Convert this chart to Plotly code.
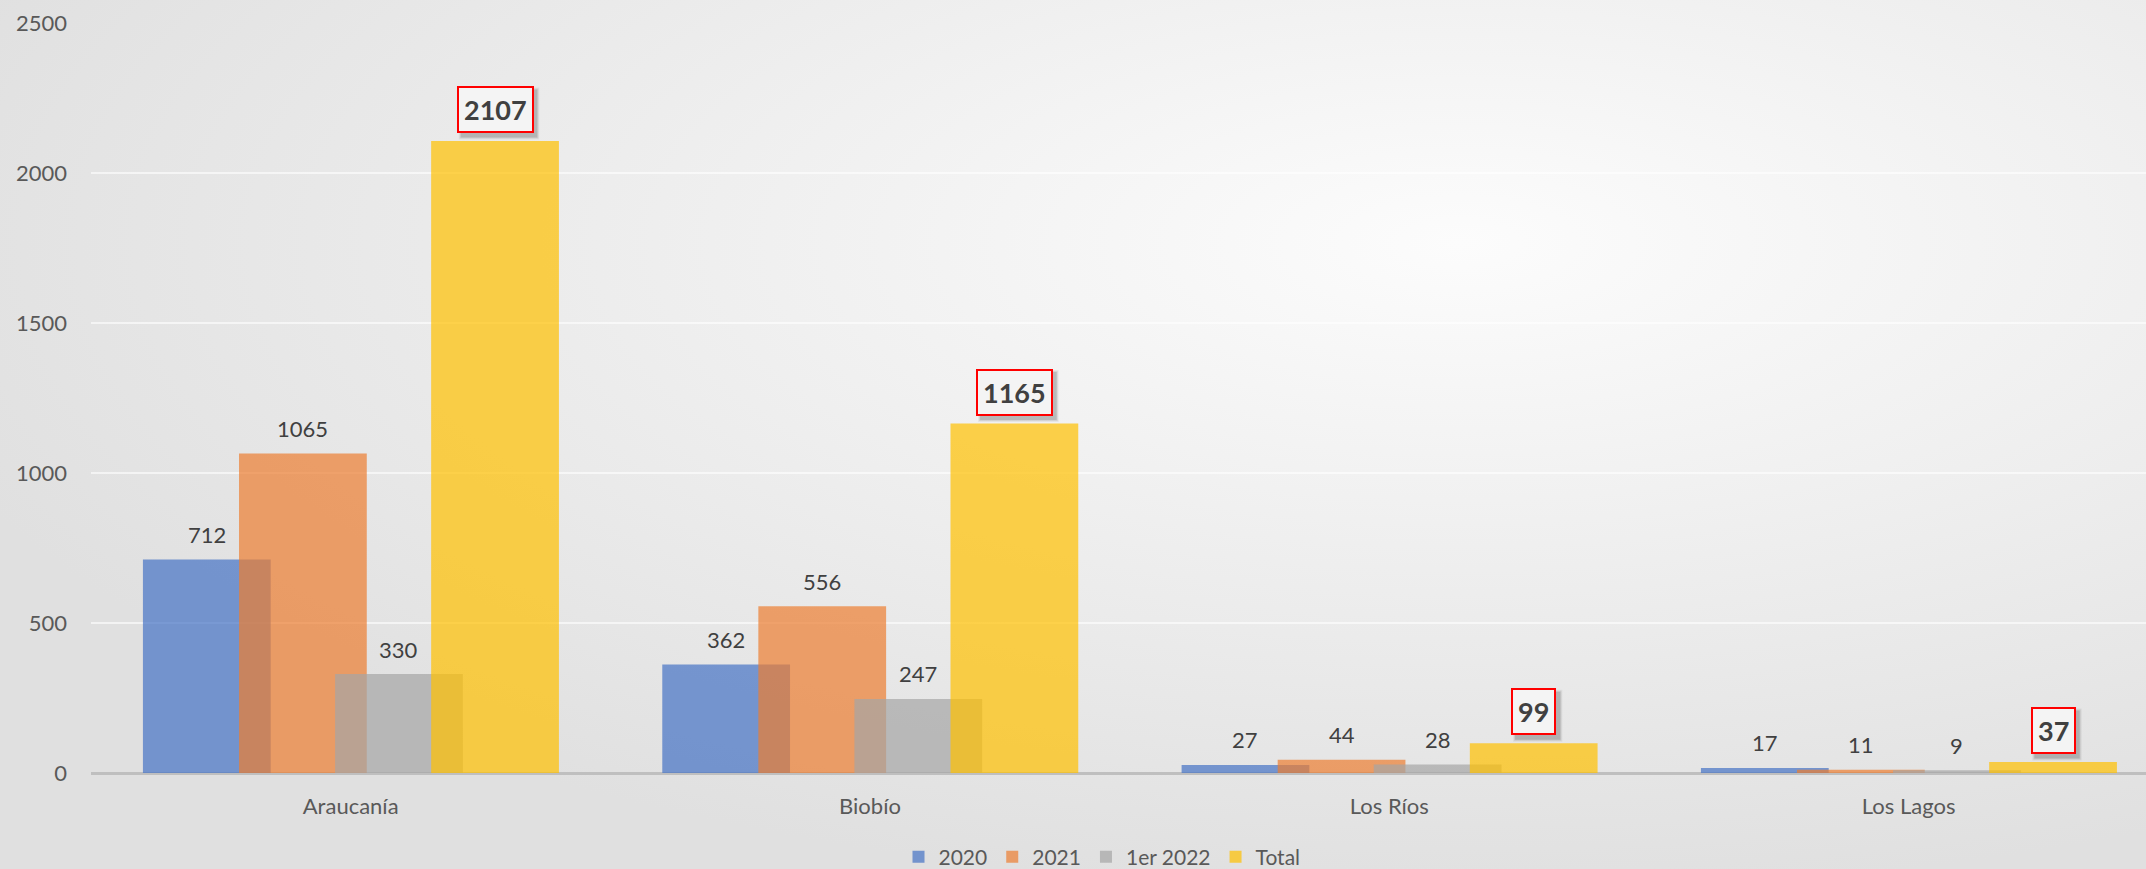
import base64
import plotly.graph_objects as go

REGIONES = ["Araucanía", "Biobío", "Los Ríos", "Los Lagos"]
SERIES = ["2020", "2021", "1er 2022", "Total"]
V_2020 = [712, 362, 27, 17]
V_2021 = [1065, 556, 44, 11]
V_1ER_2022 = [330, 247, 28, 9]
V_TOTAL = [2107, 1165, 99, 37]
Y_TICKS = [0, 500, 1000, 1500, 2000, 2500]

# Office palette with ~30% transparency
COLORS = ["rgba(68,114,196,0.7)", "rgba(237,125,49,0.7)", "rgba(165,165,165,0.7)", "rgba(255,192,0,0.7)"]
FONT = "Lato, Carlito, Calibri, sans-serif"
TXT = "#404040"
AXIS_TXT = "#595959"

W, H = 2146, 869
M_L, M_R, M_T, M_B = 91, 0, 23, 96
BAR_W = 0.246
STEP = 0.185
OFFSETS = [-0.4 + i * STEP for i in range(4)]
TOTAL_SIZE = 27
TOTAL_SHIFT = 31.5

# soft radial background like the Excel chart area
svg = (
    '<svg xmlns="http://www.w3.org/2000/svg" width="100" height="100" preserveAspectRatio="none">'
    '<defs><radialGradient id="g" cx="68%" cy="28%" r="75%">'
    '<stop offset="0%" stop-color="#FCFCFC"/><stop offset="100%" stop-color="#E0E0E0"/>'
    '</radialGradient></defs><rect width="100" height="100" fill="url(#g)"/></svg>'
)
bg_src = "data:image/svg+xml;base64," + base64.b64encode(svg.encode()).decode()

values = [V_2020, V_2021, V_1ER_2022, V_TOTAL]

fig = go.Figure()
for name, vals, col, off in zip(SERIES, values, COLORS, OFFSETS):
    fig.add_trace(
        go.Bar(
            x=REGIONES,
            y=vals,
            name=name,
            width=BAR_W,
            offset=off,
            marker=dict(color=col, line=dict(width=0)),
            hovertemplate="%{x}<br>" + name + ": %{y}<extra></extra>",
        )
    )

annotations = []
for j, (vals, off) in enumerate(zip(values, OFFSETS)):
    total = j == len(values) - 1
    for i, v in enumerate(vals):
        xc = i + off + BAR_W / 2
        if total:
            # blurred-ish drop shadow under the red box (pixel-sized shapes)
            hw = (len(str(v)) * 0.58 * TOTAL_SIZE + 14) / 2
            hh = 24
            for grow, a in [(2, 0.05), (1, 0.08), (0, 0.12)]:
                fig.add_shape(
                    type="rect", xref="x", yref="y",
                    xsizemode="pixel", ysizemode="pixel", xanchor=xc, yanchor=v,
                    x0=-hw + 4 - grow, x1=hw + 4 + grow,
                    y0=TOTAL_SHIFT - hh - 4 - grow, y1=TOTAL_SHIFT + hh - 4 + grow,
                    fillcolor=f"rgba(0,0,0,{a})", line=dict(width=0), layer="above",
                )
            annotations.append(dict(
                x=xc, y=v, xref="x", yref="y", text=f"<b>{v}</b>", showarrow=False,
                font=dict(family=FONT, size=TOTAL_SIZE, color=TXT),
                bgcolor="#F4F4F4", borderpad=5, borderwidth=2,
                bordercolor="#FF0000", yshift=TOTAL_SHIFT,
            ))
        else:
            annotations.append(dict(
                x=xc, y=v, xref="x", yref="y", text=str(v), showarrow=False,
                font=dict(family=FONT, size=22, color=TXT), yshift=25,
            ))

pw = W - M_L - M_R
ph = H - M_T - M_B
fig.add_layout_image(dict(
    source=bg_src, xref="paper", yref="paper",
    x=-M_L / pw, y=1 + M_T / ph, sizex=W / pw, sizey=H / ph,
    sizing="stretch", xanchor="left", yanchor="top", layer="below",
))

fig.update_layout(
    width=W,
    height=H,
    barmode="overlay",
    paper_bgcolor="#EBEBEB",
    plot_bgcolor="rgba(0,0,0,0)",
    font=dict(family=FONT, color=AXIS_TXT, size=22),
    margin=dict(l=M_L, r=M_R, t=M_T, b=M_B),
    annotations=annotations,
    showlegend=True,
    legend=dict(
        orientation="h", x=(1102 - M_L) / pw, xanchor="center",
        yref="container", y=(H - 857) / H, yanchor="middle",
        font=dict(size=21, color=AXIS_TXT), bgcolor="rgba(0,0,0,0)",
        itemwidth=30, tracegroupgap=0,
    ),
)
fig.update_xaxes(
    range=[-0.5, 3.457],
    showgrid=False,
    showline=False,
    ticks="",
    tickfont=dict(size=22, color=AXIS_TXT),
    ticklabelstandoff=18,
)
fig.update_yaxes(
    range=[0, 2500],
    tickvals=Y_TICKS,
    showgrid=True,
    gridcolor="rgba(255,255,255,0.6)",
    gridwidth=2,
    zeroline=True,
    zerolinecolor="#BFBFBF",
    zerolinewidth=3,
    ticks="",
    tickfont=dict(size=22, color=AXIS_TXT),
    ticklabelstandoff=23,
)

fig.write_html(
    "out.html",
    config={"displayModeBar": False},
    post_script="document.body.style.margin='0';",
)
